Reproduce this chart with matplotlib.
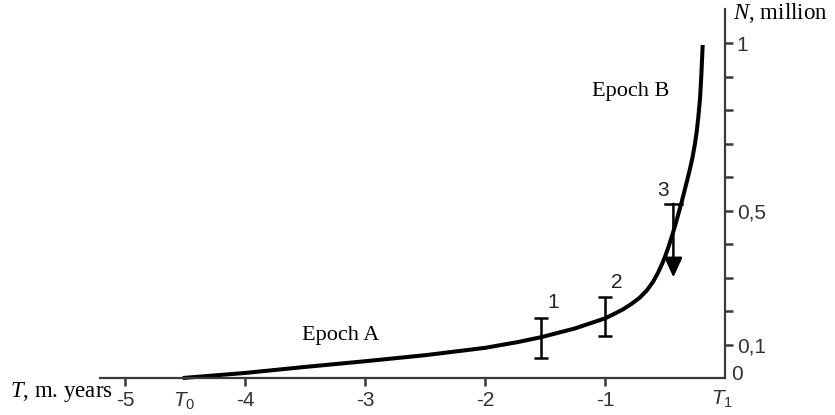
import matplotlib
matplotlib.use("Agg")
import matplotlib.pyplot as plt

plt.rcParams['font.family'] = ['Liberation Sans', 'DejaVu Sans']
plt.rcParams['mathtext.fontset'] = 'custom'
plt.rcParams['mathtext.rm'] = 'Liberation Serif'
plt.rcParams['mathtext.it'] = 'Liberation Serif:italic'
plt.rcParams['mathtext.sf'] = 'Liberation Sans:italic'
plt.rcParams['mathtext.tt'] = 'Liberation Sans'

# curve (T in million years, N in millions)
curve_T = [-4.52, -4.0, -3.5, -3.0, -2.5, -2.0, -1.73, -1.53, -1.25, -1.0,
           -0.92, -0.85, -0.78, -0.71, -0.65, -0.60, -0.56, -0.525, -0.50,
           -0.475, -0.455, -0.433, -0.415, -0.40, -0.38, -0.36, -0.314,
           -0.29, -0.27, -0.25, -0.236, -0.222, -0.208, -0.197, -0.186]
curve_N = [0.0, 0.015, 0.033, 0.05, 0.068, 0.09, 0.107, 0.122, 0.148, 0.178,
           0.192, 0.205, 0.221, 0.24, 0.262, 0.287, 0.313, 0.34, 0.362,
           0.387, 0.409, 0.434, 0.456, 0.475, 0.501, 0.527, 0.592,
           0.627, 0.66, 0.70, 0.735, 0.78, 0.835, 0.905, 0.994]

# error bars 1 and 2: position, centre, half-length
bar_T = [-1.53, -1.0]
bar_N = [0.12, 0.183]
bar_err = [0.06, 0.058]
bar_names = ['1', '2']

# estimate 3: upper bound with arrow pointing down
est3_T = -0.43
est3_top = 0.52
est3_tip = 0.30

x_ticks = [-5, -4, -3, -2, -1]
y_ticks = [0.1, 0.2, 0.3, 0.4, 0.5, 0.6, 0.7, 0.8, 0.9, 1.0]
y_labels = ['0,1', '', '', '', '0,5', '', '', '', '', '1']

axis_col = '#3a3a3a'

fig = plt.figure(figsize=(8.35, 4.15), dpi=100)
ax = fig.add_axes([0, 0, 1, 1])
ax.set_xlim(-725 / 120, 110 / 120)
ax.set_ylim(-37 / 335, 378 / 335)

for s in ['top', 'left']:
    ax.spines[s].set_visible(False)
ax.spines['bottom'].set_position(('data', 0))
ax.spines['bottom'].set_bounds(-5.21, 0)
ax.spines['right'].set_position(('data', 0))
ax.spines['right'].set_bounds(0, 1.1)
for s in ['bottom', 'right']:
    ax.spines[s].set_color(axis_col)
    ax.spines[s].set_linewidth(1.6)

ax.xaxis.set_ticks_position('bottom')
ax.yaxis.set_ticks_position('right')
ax.set_xticks(x_ticks)
ax.set_xticklabels([str(t) for t in x_ticks])
ax.set_yticks(y_ticks)
ax.set_yticklabels(y_labels)
ax.tick_params(axis='both', direction='out', length=5.5, width=1.8,
               color=axis_col, labelsize=15, labelcolor='#333333')
ax.tick_params(axis='x', pad=4)
ax.tick_params(axis='y', pad=3)

# main curve
ax.plot(curve_T, curve_N, color='black', lw=2.9, solid_capstyle='butt',
        solid_joinstyle='round')

# error bars
ax.errorbar(bar_T, bar_N, yerr=bar_err, fmt='none', ecolor='black',
            elinewidth=1.8, capsize=4.8, capthick=1.8)
for t, n, e, name in zip(bar_T, bar_N, bar_err, bar_names):
    ax.text(t + 0.1, n + e + 0.045, name, fontsize=15, ha='center',
            va='center', color='#222222')

# estimate 3
ax.plot([est3_T - 0.07, est3_T + 0.07], [est3_top, est3_top],
        color='black', lw=1.8)
ax.annotate('', xy=(est3_T, est3_tip), xytext=(est3_T, est3_top),
            arrowprops=dict(arrowstyle='-|>,head_length=0.6,head_width=0.27',
                            color='black', lw=1.8, mutation_scale=20,
                            shrinkA=0, shrinkB=0))
ax.text(est3_T - 0.085, est3_top + 0.04, '3', fontsize=15, ha='center',
        va='center', color='#222222')

# epoch labels
ax.text(-3.2, 0.128, 'Epoch A', family='Liberation Serif', fontsize=16,
        ha='center', va='center')
ax.text(-0.79, 0.854, 'Epoch B', family='Liberation Serif', fontsize=16,
        ha='center', va='center')

# axis labels
ax.text(-5.1, -0.042, r'$T$, m. years', family='Liberation Serif',
        fontsize=16.5, ha='right', va='center')
ax.text(0.067, 1.09, r'$N$, million', family='Liberation Serif',
        fontsize=16.5, ha='left', va='center')
ax.text(0.05, 0.009, '0', fontsize=15, ha='left', va='center',
        color='#333333')
ax.text(-4.51, -0.066, r'$\mathsf{T}_{\mathtt{0}}$', fontsize=15,
        ha='center', va='center', color='#333333')
ax.text(-0.02, -0.06, r'$\mathsf{T}_{\mathtt{1}}$', fontsize=15,
        ha='center', va='center', color='#333333')

fig.savefig('out.png', dpi=100)
